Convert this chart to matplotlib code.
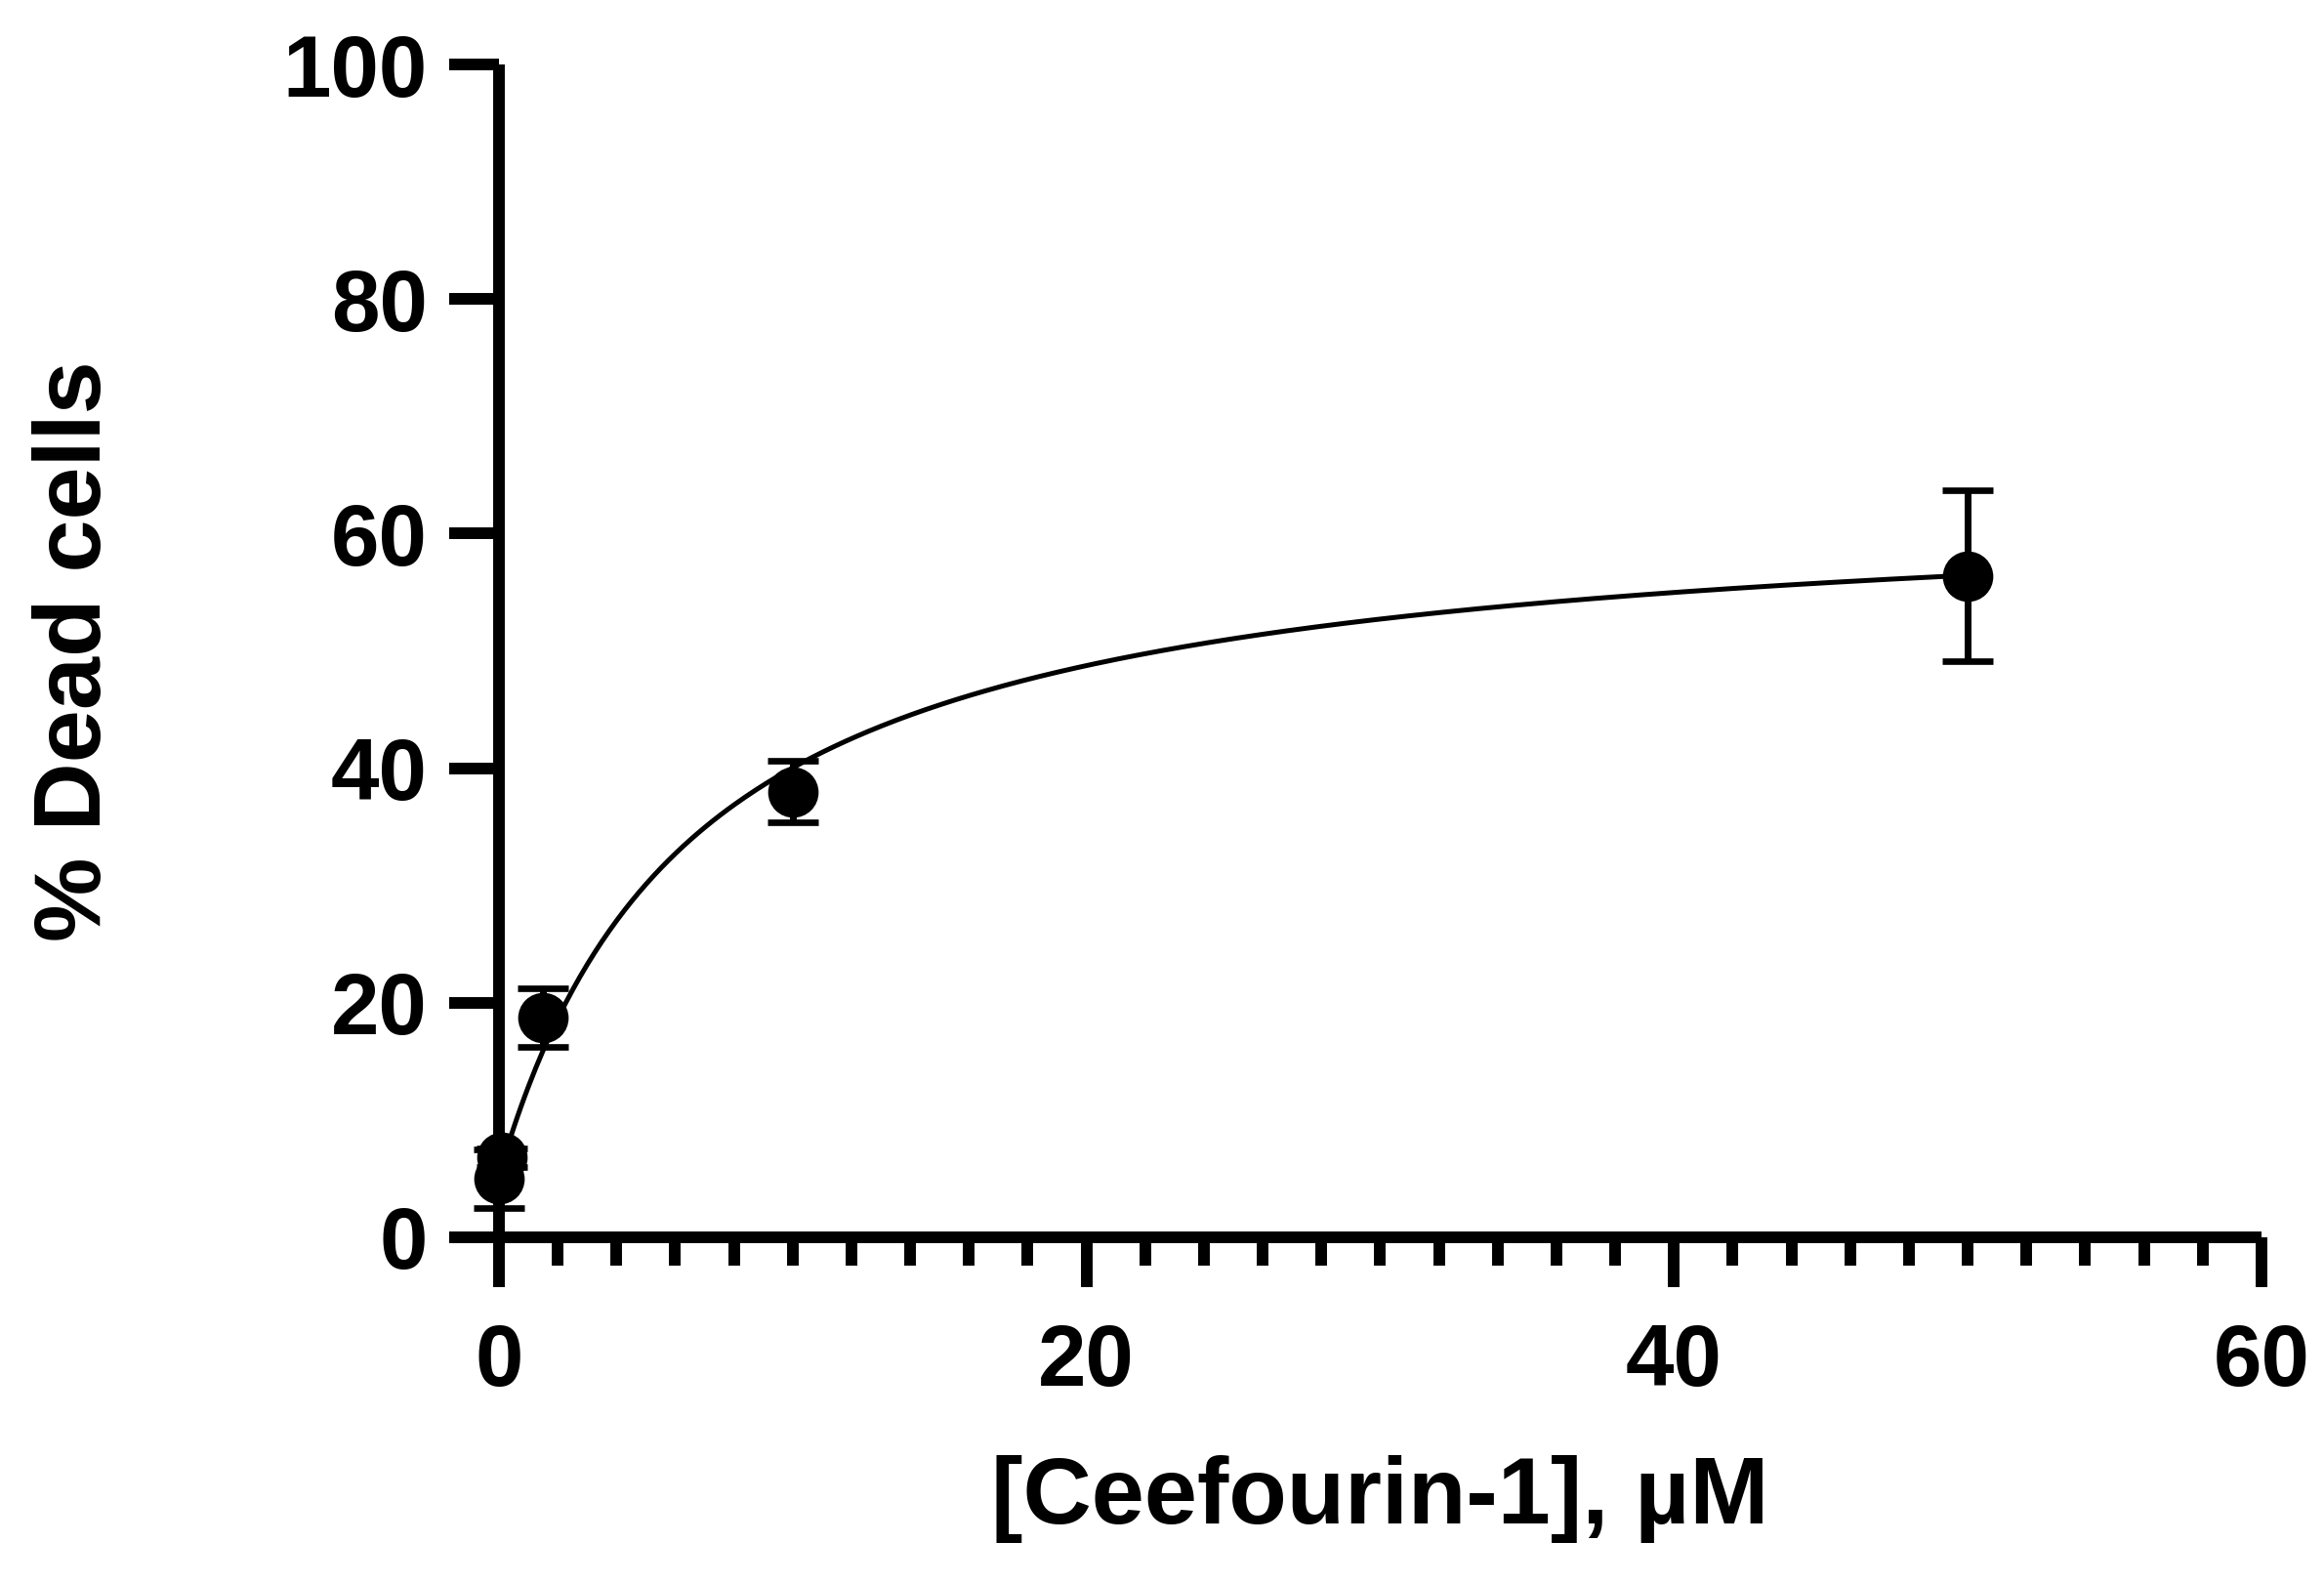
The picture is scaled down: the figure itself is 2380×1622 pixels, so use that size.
# % dead cells vs Ceefourin-1 concentration

import numpy as np
import matplotlib
matplotlib.use('Agg')
import matplotlib.pyplot as plt
from matplotlib.ticker import MultipleLocator

plt.rcParams['font.family'] = ['Liberation Sans', 'DejaVu Sans']
plt.rcParams['font.weight'] = 'bold'

# data
conc = [0, 0.1, 1.5, 10, 50]           # µM
dead = [5.0, 6.8, 18.7, 38.0, 56.4]    # % dead cells
sem = [2.5, 0.8, 2.5, 2.6, 7.3]

# fitted hyperbola (bottom + span * x / (kd + x)), parameters
fit_bottom = 5.3
fit_span = 58.0
fit_kd = 6.7
fit_range = (0, 50)

x_ticks = [0, 20, 40, 60]
y_ticks = [0, 20, 40, 60, 80, 100]

fig = plt.figure(figsize=(11.9, 8.11), dpi=200)
ax = fig.add_axes([0.2147, 0.2189, 0.7584, 0.7404])

xs = np.linspace(fit_range[0], fit_range[1], 400)
ax.plot(xs, fit_bottom + fit_span * xs / (fit_kd + xs), color='black', lw=1.8, zorder=3)

ax.errorbar(conc, dead, yerr=sem, fmt='o', color='black', ms=17.6,
            elinewidth=2.5, capsize=9.5, capthick=2.4, clip_on=False, zorder=4)

ax.set_xlim(0, 60)
ax.set_ylim(0, 100)
ax.set_xticks(x_ticks)
ax.set_yticks(y_ticks)
ax.xaxis.set_minor_locator(MultipleLocator(2))

for side in ['top', 'right']:
    ax.spines[side].set_visible(False)
for side in ['left', 'bottom']:
    ax.spines[side].set_linewidth(4.3)
    ax.spines[side].set_capstyle('butt')

ax.tick_params(axis='both', which='major', direction='out', length=18.4, width=4.3, labelsize=32)
ax.tick_params(axis='x', which='major', pad=13)
ax.tick_params(axis='y', which='major', pad=8)
ax.tick_params(axis='x', which='minor', direction='out', length=10.4, width=4.3)

for lab in ax.get_xticklabels() + ax.get_yticklabels():
    lab.set_fontweight('bold')

ax.set_xlabel('[Ceefourin-1], µM', fontsize=35, fontweight='bold')
ax.set_ylabel('% Dead cells', fontsize=35, fontweight='bold')
ax.xaxis.set_label_coords(0.5, -0.186)
ax.yaxis.set_label_coords(-0.215, 0.5)

fig.savefig('out.png', dpi=200, facecolor='white')
